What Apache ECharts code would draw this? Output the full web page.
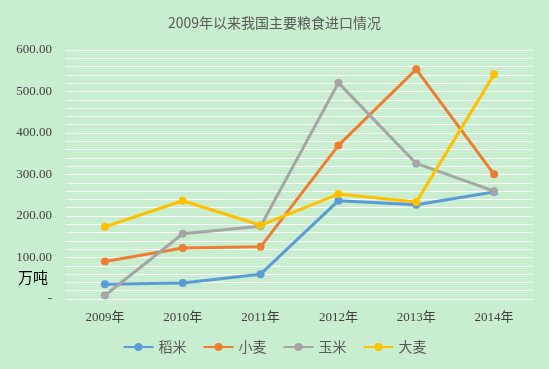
<!DOCTYPE html>
<html><head><meta charset="utf-8">
<script src="https://cdn.jsdelivr.net/npm/echarts@6/dist/echarts.min.js"></script>
<style>html,body{margin:0;padding:0;background:#c8edcf;}#c{width:549px;height:369px;}</style>
</head><body><div id="c"></div>
<script>
const categories = ['2009年','2010年','2011年','2012年','2013年','2014年'];
const rice = [35.7, 38.8, 59.8, 236.9, 227.1, 257.9];
const wheat = [90.4, 123.1, 125.8, 370.1, 553.5, 300.4];
const corn = [8.4, 157.3, 175.4, 520.8, 326.6, 259.9];
const barley = [173.8, 236.7, 177.6, 252.8, 233.5, 541.3];
const seriesNames = ['稻米','小麦','玉米','大麦'];
const colors = ['#5b9bd5','#ed7d31','#a5a5a5','#ffc000'];
const numFont = 'Liberation Serif, Noto Sans CJK SC, serif';
const chart = echarts.init(document.getElementById('c'));
const data = [rice, wheat, corn, barley];
chart.setOption({
  backgroundColor: '#c8edcf',
  title: {text: '2009年以来我国主要粮食进口情况', left: 'center', top: 11,
    textStyle: {fontSize: 14, fontWeight: 'normal', color: '#595959', fontFamily: 'Noto Sans CJK SC, sans-serif'}},
  grid: {left: 66, right: 16, top: 50, bottom: 70},
  legend: {bottom: 10, itemWidth: 30, itemHeight: 10, itemGap: 16,
    textStyle: {color: '#595959', fontSize: 14, fontFamily: 'Noto Sans CJK SC, sans-serif'},
    data: seriesNames},
  xAxis: {type: 'category', data: categories, boundaryGap: true,
    axisLine: {show: false}, axisTick: {show: false},
    axisLabel: {color: '#404040', fontSize: 13, margin: 12, fontFamily: numFont}},
  yAxis: {type: 'value', min: 0, max: 600, interval: 100,
    axisLine: {show: false}, axisTick: {show: false},
    axisLabel: {color: '#404040', fontSize: 13, margin: 14, fontFamily: numFont,
      formatter: v => v === 0 ? '-' : v.toFixed(2)},
    splitLine: {lineStyle: {color: '#ffffff', width: 1}},
    minorTick: {show: false, splitNumber: 5},
    minorSplitLine: {show: true, lineStyle: {color: '#ffffff', width: 1}}},
  graphic: [{type: 'text', left: 18, top: 270, style: {text: '万吨', fontSize: 15, fill: '#000', fontFamily: 'Noto Sans CJK SC, sans-serif'}}],
  series: data.map((d, i) => ({
    name: seriesNames[i], type: 'line', data: d, symbol: 'circle', symbolSize: 8,
    lineStyle: {width: 3, color: colors[i]}, itemStyle: {color: colors[i]}, z: 2 + i
  }))
});
</script></body></html>
